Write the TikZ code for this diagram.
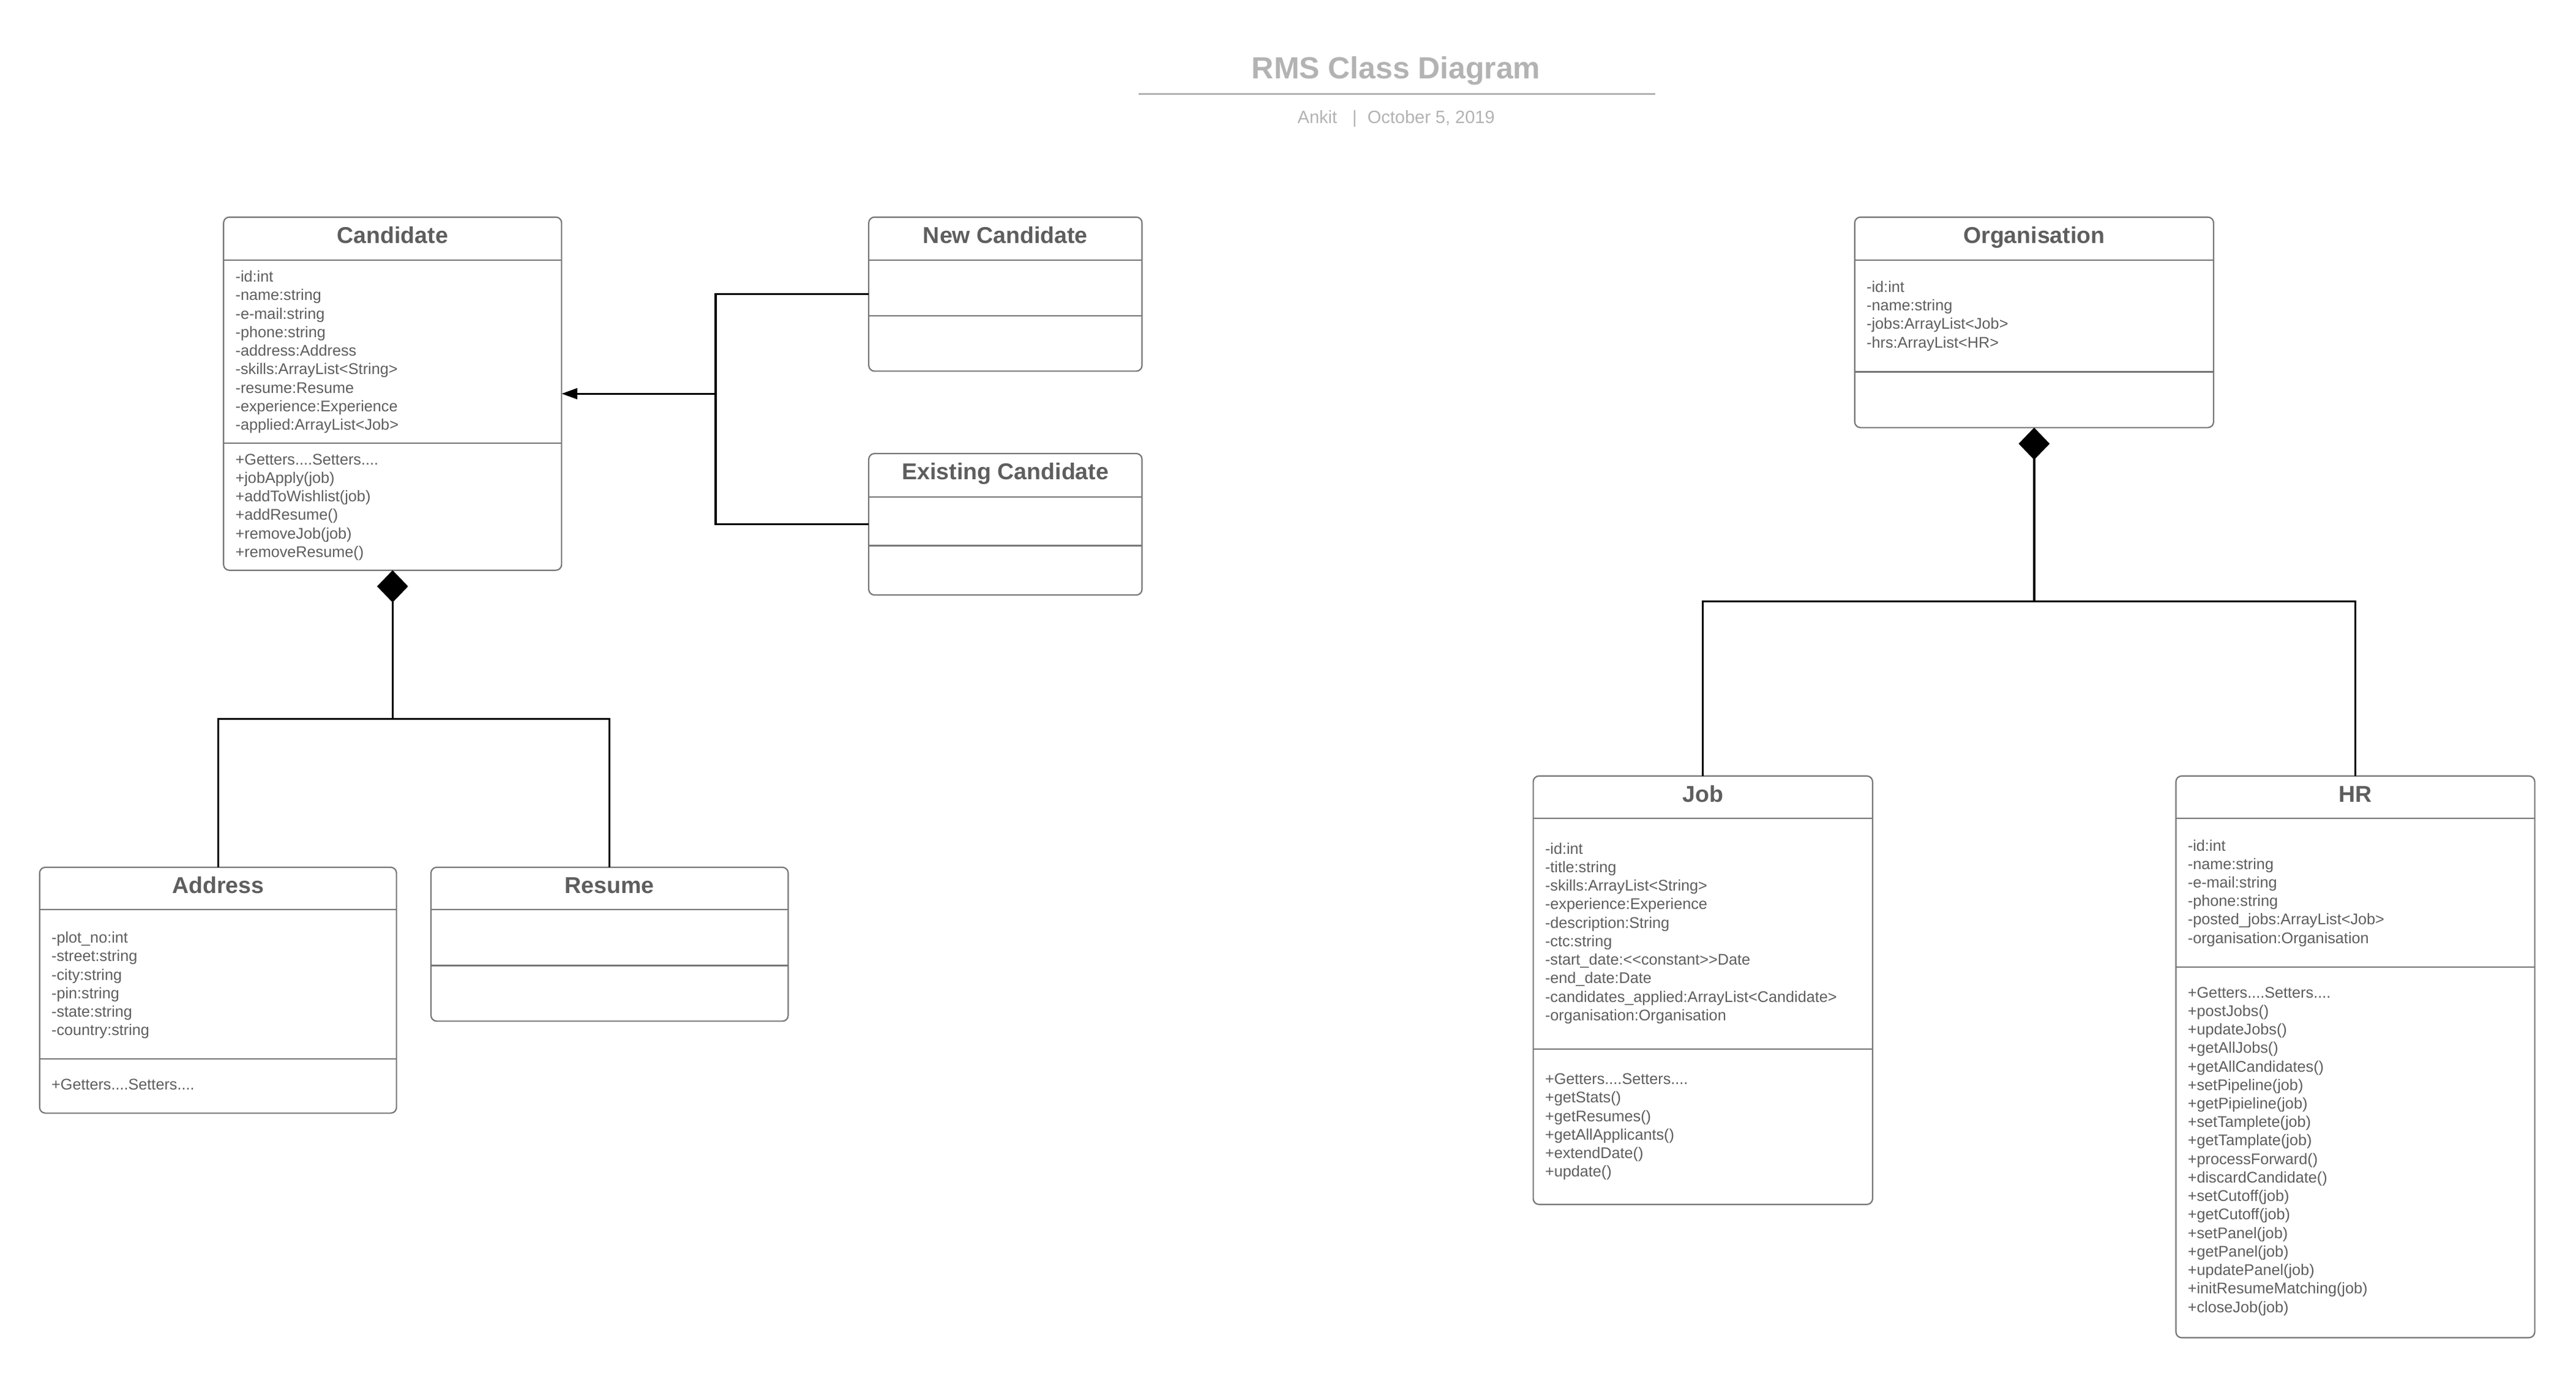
\documentclass[tikz,border=0pt]{standalone}
\usepackage{fontspec}
\setmainfont{Liberation Sans}[Ligatures=TeXOff]
\usetikzlibrary{arrows.meta}
\definecolor{textgray}{HTML}{5E5E5E}
\definecolor{linegray}{HTML}{767676}
\definecolor{titlegray}{HTML}{B3B3B3}
\newcommand\getset{+Getters....Setters....}
\tikzset{
  classbox/.style = {draw=linegray, line width=0.8pt, rounded corners=3.5pt,
    inner sep=0pt, outer sep=0pt},
  classname/.style = {anchor=base, inner sep=0pt, text=textgray,
    font=\bfseries\fontsize{13.9}{16}\selectfont},
  member/.style = {anchor=base west, inner sep=0pt, text=textgray,
    font=\fontsize{9.35}{11.2}\selectfont},
  divider/.style = {draw=linegray, line width=0.8pt},
  assoc/.style = {draw=black, line width=1.2pt},
  composite/.style = {assoc, {Diamond[length=19.5pt,width=18.8pt]}-},
}

\begin{document}
\begin{tikzpicture}[x=1pt, y=-1pt, >={Triangle[length=9.5pt,width=6.5pt]}]
  \fill[white] (0,0) rectangle (1560,834.9);
  % title block
  \node [anchor=base, inner sep=0pt, text=titlegray,
    font=\bfseries\fontsize{18.5}{22}\selectfont] (title) at (845.5,47.8) {RMS Class Diagram};
  \draw [titlegray, line width=1pt] (689.5,56.9) -- (1002.5,56.9);
  \node [anchor=base, inner sep=0pt, text=titlegray,
    font=\fontsize{10.75}{13}\selectfont] (byline) at (845.5,74.7)
    {Ankit\hspace{9.3pt}|\hspace{6.3pt}October 5, 2019};

  % Candidate
  \node [classbox, minimum width=204.7pt, minimum height=213.9pt] (cand) at (237.75,238.45) {};
  \node [classname] (candname) at ([yshift=-15.9pt]cand.north) {Candidate};
  \draw [divider] (cand.north west) ++(0,26.2) -- ++(204.7,0);
  \draw [divider] (cand.north west) ++(0,136.9) -- ++(204.7,0);
  \foreach \m [count=\i from 0] in {-id:int, -name:string, -e-mail:string,
      -phone:string, -address:Address, -skills:ArrayList<String>,
      -resume:Resume, -experience:Experience, -applied:ArrayList<Job>}
    \node [member] (cand-a\i) at (142.4,{170.8+11.21*\i}) {\m};
  \foreach \m [count=\i from 0] in {\getset, +jobApply(job),
      +addToWishlist(job), +addResume(), +removeJob(job), +removeResume()}
    \node [member] (cand-m\i) at (142.4,{281.4+11.21*\i}) {\m};

  % New Candidate
  \node [classbox, minimum width=165.5pt, minimum height=93.3pt] (newc) at (608.85,178.15) {};
  \node [classname] (newcname) at ([yshift=-15.9pt]newc.north) {New Candidate};
  \draw [divider] (newc.north west) ++(0,26.2) -- ++(165.5,0);
  \draw [divider] (newc.north west) ++(0,59.8) -- ++(165.5,0);

  % Existing Candidate
  \node [classbox, minimum width=165.5pt, minimum height=85.7pt] (oldc) at (608.85,317.55) {};
  \node [classname] (oldcname) at ([yshift=-15.9pt]oldc.north) {Existing Candidate};
  \draw [divider] (oldc.north west) ++(0,26.2) -- ++(165.5,0);
  \draw [divider] (oldc.north west) ++(0,55.8) -- ++(165.5,0);

  % Address
  \node [classbox, minimum width=216.1pt, minimum height=148.9pt] (addr) at (132.05,599.75) {};
  \node [classname] (addrname) at ([yshift=-15.9pt]addr.north) {Address};
  \draw [divider] (addr.north west) ++(0,25.6) -- ++(216.1,0);
  \draw [divider] (addr.north west) ++(0,116) -- ++(216.1,0);
  \foreach \m [count=\i from 0] in {-plot\_no:int, -street:string, -city:string,
      -pin:string, -state:string, -country:string}
    \node [member] (addr-a\i) at (31,{571.1+11.21*\i}) {\m};
  \node [member] (addr-m0) at (31,660.2) {\getset};

  % Resume
  \node [classbox, minimum width=216.3pt, minimum height=93.2pt] (res) at (369.15,571.9) {};
  \node [classname] (resname) at ([yshift=-15.9pt]res.north) {Resume};
  \draw [divider] (res.north west) ++(0,25.6) -- ++(216.3,0);
  \draw [divider] (res.north west) ++(0,59.5) -- ++(216.3,0);

  % Organisation
  \node [classbox, minimum width=217.3pt, minimum height=127.5pt] (org) at (1231.85,195.25) {};
  \node [classname] (orgname) at ([yshift=-15.9pt]org.north) {Organisation};
  \draw [divider] (org.north west) ++(0,26.2) -- ++(217.3,0);
  \draw [divider] (org.north west) ++(0,93.7) -- ++(217.3,0);
  \foreach \m [count=\i from 0] in {-id:int, -name:string,
      -jobs:ArrayList<Job>, -hrs:ArrayList<HR>}
    \node [member] (org-a\i) at (1130.2,{177+11.21*\i}) {\m};

  % Job
  \node [classbox, minimum width=205.5pt, minimum height=259.5pt] (job) at (1031.25,599.75) {};
  \node [classname] (jobname) at ([yshift=-15.9pt]job.north) {Job};
  \draw [divider] (job.north west) ++(0,25.8) -- ++(205.5,0);
  \draw [divider] (job.north west) ++(0,165.4) -- ++(205.5,0);
  \foreach \m [count=\i from 0] in {-id:int, -title:string,
      -skills:ArrayList<String>, -experience:Experience, -description:String,
      -ctc:string, -start\_date:<<constant>>Date,
      -end\_date:Date, -candidates\_applied:ArrayList<Candidate>,
      -organisation:Organisation}
    \node [member] (job-a\i) at (935.5,{517.2+11.21*\i}) {\m};
  \foreach \m [count=\i from 0] in {\getset, +getStats(),
      +getResumes(), +getAllApplicants(), +extendDate(), +update()}
    \node [member] (job-m\i) at (935.5,{656.8+11.21*\i}) {\m};

  % HR
  \node [classbox, minimum width=217.3pt, minimum height=340.2pt] (hr) at (1426.35,640.1) {};
  \node [classname] (hrname) at ([yshift=-15.9pt]hr.north) {HR};
  \draw [divider] (hr.north west) ++(0,25.8) -- ++(217.3,0);
  \draw [divider] (hr.north west) ++(0,115.6) -- ++(217.3,0);
  \foreach \m [count=\i from 0] in {-id:int, -name:string, -e-mail:string,
      -phone:string, -posted\_jobs:ArrayList<Job>, -organisation:Organisation}
    \node [member] (hr-a\i) at (1324.7,{515.3+11.21*\i}) {\m};
  \foreach \m [count=\i from 0] in {\getset, +postJobs(),
      +updateJobs(), +getAllJobs(), +getAllCandidates(), +setPipeline(job),
      +getPipieline(job), +setTamplete(job), +getTamplate(job),
      +processForward(), +discardCandidate(), +setCutoff(job), +getCutoff(job),
      +setPanel(job), +getPanel(job), +updatePanel(job),
      +initResumeMatching(job), +closeJob(job)}
    \node [member] (hr-m\i) at (1324.7,{604.3+11.21*\i}) {\m};

  % connectors
  \coordinate (genx) at (433.4,0);
  \coordinate (gen) at (cand.east -| genx);
  \draw [assoc] (newc.west) -| (gen) |- (oldc.west);
  \draw [assoc, ->] (gen) -- (cand.east);

  \path (cand.south) ++(0,90.1) coordinate (candbus);
  \draw [composite] (cand.south) -- (candbus);
  \draw [assoc] (addr.north) |- (candbus) -| (res.north);

  \path (org.south) ++(0,105.2) coordinate (orgbus);
  \draw [composite] (org.south) -- (orgbus);
  \draw [assoc] (job.north) |- (orgbus) -| (hr.north);
\end{tikzpicture}
\end{document}
